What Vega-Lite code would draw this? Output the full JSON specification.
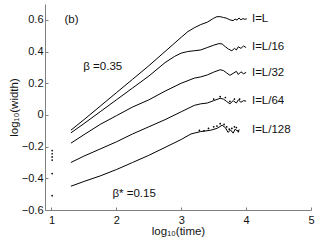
{
  "$schema": "https://vega.github.io/schema/vega-lite/v6.json",
  "width": 266,
  "height": 206,
  "autosize": {"type": "none"},
  "padding": {"left": 45, "top": 4, "right": 5, "bottom": 31},
  "background": "white",
  "config": {
    "view": {"stroke": null},
    "font": "Liberation Sans",
    "axis": {
      "grid": false,
      "domainColor": "#808080",
      "tickColor": "#808080",
      "labelColor": "#111",
      "titleColor": "#111",
      "labelFont": "Liberation Sans",
      "titleFont": "Liberation Sans",
      "labelFontSize": 11,
      "titleFontSize": 11.5,
      "titleFontWeight": "normal",
      "tickSize": -3,
      "labelFlush": false,
      "labelOverlap": false
    }
  },
  "datasets": {
    "lines": [
      {"s": "L", "x": 1.3, "y": -0.096}, {"s": "L", "x": 1.5, "y": -0.03}, {"s": "L", "x": 1.75, "y": 0.055},
      {"s": "L", "x": 2.0, "y": 0.14}, {"s": "L", "x": 2.25, "y": 0.225}, {"s": "L", "x": 2.5, "y": 0.31},
      {"s": "L", "x": 2.75, "y": 0.4}, {"s": "L", "x": 3.0, "y": 0.49}, {"s": "L", "x": 3.1, "y": 0.525},
      {"s": "L", "x": 3.2, "y": 0.55}, {"s": "L", "x": 3.3, "y": 0.57}, {"s": "L", "x": 3.4, "y": 0.585},
      {"s": "L", "x": 3.5, "y": 0.61}, {"s": "L", "x": 3.55, "y": 0.62}, {"s": "L", "x": 3.6, "y": 0.62},
      {"s": "L", "x": 3.65, "y": 0.615}, {"s": "L", "x": 3.7, "y": 0.61}, {"s": "L", "x": 3.75, "y": 0.6},
      {"s": "L", "x": 3.8, "y": 0.595}, {"s": "L", "x": 3.83, "y": 0.605}, {"s": "L", "x": 3.86, "y": 0.598},
      {"s": "L", "x": 3.89, "y": 0.612}, {"s": "L", "x": 3.92, "y": 0.6}, {"s": "L", "x": 3.95, "y": 0.608},
      {"s": "L", "x": 3.98, "y": 0.603}, {"s": "L", "x": 4.01, "y": 0.607},

      {"s": "L16", "x": 1.3, "y": -0.113}, {"s": "L16", "x": 1.5, "y": -0.055}, {"s": "L16", "x": 1.75, "y": 0.02},
      {"s": "L16", "x": 2.0, "y": 0.095}, {"s": "L16", "x": 2.25, "y": 0.17}, {"s": "L16", "x": 2.5, "y": 0.245},
      {"s": "L16", "x": 2.75, "y": 0.33}, {"s": "L16", "x": 2.9, "y": 0.37}, {"s": "L16", "x": 3.0, "y": 0.39},
      {"s": "L16", "x": 3.1, "y": 0.4}, {"s": "L16", "x": 3.2, "y": 0.405}, {"s": "L16", "x": 3.3, "y": 0.41},
      {"s": "L16", "x": 3.4, "y": 0.425}, {"s": "L16", "x": 3.5, "y": 0.44}, {"s": "L16", "x": 3.58, "y": 0.45},
      {"s": "L16", "x": 3.63, "y": 0.448}, {"s": "L16", "x": 3.68, "y": 0.43}, {"s": "L16", "x": 3.73, "y": 0.415},
      {"s": "L16", "x": 3.78, "y": 0.405}, {"s": "L16", "x": 3.82, "y": 0.42}, {"s": "L16", "x": 3.85, "y": 0.41},
      {"s": "L16", "x": 3.88, "y": 0.43}, {"s": "L16", "x": 3.92, "y": 0.42}, {"s": "L16", "x": 3.96, "y": 0.435},
      {"s": "L16", "x": 4.0, "y": 0.425},

      {"s": "L32", "x": 1.3, "y": -0.178}, {"s": "L32", "x": 1.5, "y": -0.125}, {"s": "L32", "x": 1.75, "y": -0.06},
      {"s": "L32", "x": 2.0, "y": -0.005}, {"s": "L32", "x": 2.25, "y": 0.05}, {"s": "L32", "x": 2.5, "y": 0.095},
      {"s": "L32", "x": 2.75, "y": 0.15}, {"s": "L32", "x": 3.0, "y": 0.2}, {"s": "L32", "x": 3.2, "y": 0.232},
      {"s": "L32", "x": 3.3, "y": 0.24}, {"s": "L32", "x": 3.4, "y": 0.252}, {"s": "L32", "x": 3.5, "y": 0.27},
      {"s": "L32", "x": 3.6, "y": 0.285}, {"s": "L32", "x": 3.65, "y": 0.28}, {"s": "L32", "x": 3.7, "y": 0.265},
      {"s": "L32", "x": 3.75, "y": 0.25}, {"s": "L32", "x": 3.8, "y": 0.262}, {"s": "L32", "x": 3.85, "y": 0.275},
      {"s": "L32", "x": 3.88, "y": 0.255}, {"s": "L32", "x": 3.92, "y": 0.272}, {"s": "L32", "x": 3.96, "y": 0.26},
      {"s": "L32", "x": 4.0, "y": 0.268},

      {"s": "L64", "x": 1.3, "y": -0.3}, {"s": "L64", "x": 1.5, "y": -0.26}, {"s": "L64", "x": 1.75, "y": -0.215},
      {"s": "L64", "x": 2.0, "y": -0.17}, {"s": "L64", "x": 2.25, "y": -0.12}, {"s": "L64", "x": 2.5, "y": -0.075},
      {"s": "L64", "x": 2.75, "y": -0.03}, {"s": "L64", "x": 3.0, "y": 0.02}, {"s": "L64", "x": 3.2, "y": 0.06},
      {"s": "L64", "x": 3.3, "y": 0.07}, {"s": "L64", "x": 3.4, "y": 0.075}, {"s": "L64", "x": 3.5, "y": 0.09},
      {"s": "L64", "x": 3.6, "y": 0.105}, {"s": "L64", "x": 3.65, "y": 0.1}, {"s": "L64", "x": 3.7, "y": 0.085},
      {"s": "L64", "x": 3.75, "y": 0.07}, {"s": "L64", "x": 3.8, "y": 0.09}, {"s": "L64", "x": 3.85, "y": 0.075},
      {"s": "L64", "x": 3.88, "y": 0.095}, {"s": "L64", "x": 3.92, "y": 0.08}, {"s": "L64", "x": 3.96, "y": 0.09},
      {"s": "L64", "x": 4.0, "y": 0.087},

      {"s": "L128", "x": 1.3, "y": -0.45}, {"s": "L128", "x": 1.5, "y": -0.42}, {"s": "L128", "x": 1.75, "y": -0.385},
      {"s": "L128", "x": 2.0, "y": -0.345}, {"s": "L128", "x": 2.25, "y": -0.3}, {"s": "L128", "x": 2.5, "y": -0.255},
      {"s": "L128", "x": 2.75, "y": -0.205}, {"s": "L128", "x": 3.0, "y": -0.155}, {"s": "L128", "x": 3.15, "y": -0.12},
      {"s": "L128", "x": 3.3, "y": -0.105}, {"s": "L128", "x": 3.45, "y": -0.097}, {"s": "L128", "x": 3.55, "y": -0.085},
      {"s": "L128", "x": 3.63, "y": -0.065}, {"s": "L128", "x": 3.68, "y": -0.08}, {"s": "L128", "x": 3.72, "y": -0.11},
      {"s": "L128", "x": 3.76, "y": -0.095}, {"s": "L128", "x": 3.8, "y": -0.115}, {"s": "L128", "x": 3.83, "y": -0.09},
      {"s": "L128", "x": 3.86, "y": -0.1}, {"s": "L128", "x": 3.9, "y": -0.095}
    ],
    "dots": [
      {"x": 1.01, "y": -0.225}, {"x": 1.01, "y": -0.245}, {"x": 1.01, "y": -0.265}, {"x": 1.01, "y": -0.285},
      {"x": 1.01, "y": -0.37}, {"x": 1.01, "y": -0.51},
      {"x": 3.28, "y": -0.098}, {"x": 3.35, "y": -0.1}, {"x": 3.42, "y": -0.085}, {"x": 3.5, "y": -0.075},
      {"x": 3.55, "y": -0.07}, {"x": 3.6, "y": -0.055}, {"x": 3.66, "y": -0.06}, {"x": 3.7, "y": -0.075},
      {"x": 3.74, "y": -0.09}, {"x": 3.78, "y": -0.085}, {"x": 3.82, "y": -0.075}, {"x": 3.85, "y": -0.08},
      {"x": 3.88, "y": -0.105},
      {"x": 3.5, "y": 0.1}, {"x": 3.6, "y": 0.115}, {"x": 3.68, "y": 0.11}, {"x": 3.75, "y": 0.085},
      {"x": 3.82, "y": 0.1}, {"x": 3.9, "y": 0.1}
    ],
    "labels": [
      {"x": 1.2, "y": 0.6, "t": "(b)"},
      {"x": 1.49, "y": 0.3, "t": "β =0.35"},
      {"x": 1.94, "y": -0.5, "t": "β* =0.15"},
      {"x": 4.09, "y": 0.606, "t": "I=L"},
      {"x": 4.09, "y": 0.43, "t": "I=L/16"},
      {"x": 4.09, "y": 0.265, "t": "I=L/32"},
      {"x": 4.09, "y": 0.087, "t": "I=L/64"},
      {"x": 4.09, "y": -0.096, "t": "I=L/128"}
    ]
  },
  "encoding": {
    "x": {"field": "x", "type": "quantitative",
          "scale": {"domain": [0.9, 5], "nice": false, "zero": false},
          "axis": {"values": [1, 2, 3, 4, 5], "format": "d", "title": "log₁₀(time)", "labelPadding": 7, "titlePadding": 0}},
    "y": {"field": "y", "type": "quantitative",
          "scale": {"domain": [-0.6, 0.7], "nice": false, "zero": false},
          "axis": {"values": [-0.6, -0.4, -0.2, 0, 0.2, 0.4, 0.6], "format": ".1~f", "title": "log₁₀(width)", "labelPadding": 5, "titlePadding": 2}}
  },
  "layer": [
    {
      "data": {"name": "lines"},
      "mark": {"type": "line", "color": "black", "strokeWidth": 1},
      "encoding": {"detail": {"field": "s"}}
    },
    {
      "data": {"name": "dots"},
      "mark": {"type": "point", "filled": true, "color": "black", "size": 3, "opacity": 1}
    },
    {
      "data": {"name": "labels"},
      "mark": {"type": "text", "align": "left", "baseline": "middle", "fontSize": 11.5, "color": "#111", "font": "Liberation Sans"},
      "encoding": {"text": {"field": "t"}}
    }
  ]
}
